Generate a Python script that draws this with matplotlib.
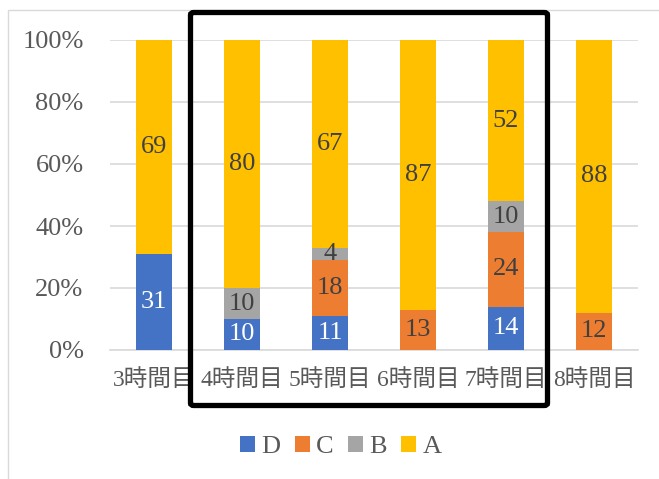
import matplotlib.pyplot as plt
from matplotlib.patches import Rectangle, FancyBboxPatch
from matplotlib.ticker import PercentFormatter

# data, percent per period
periods = ['3時間目', '4時間目', '5時間目', '6時間目', '7時間目', '8時間目']
d_vals = [31, 10, 11, 0, 14, 0]
c_vals = [0, 0, 18, 13, 24, 12]
b_vals = [0, 10, 4, 0, 10, 0]
a_vals = [69, 80, 67, 87, 52, 88]

series = [('D', d_vals, '#4472C4', 'white'),
          ('C', c_vals, '#ED7D31', '#404040'),
          ('B', b_vals, '#A5A5A5', '#404040'),
          ('A', a_vals, '#FFC000', '#404040')]

fonts = ['Liberation Serif', 'Noto Sans CJK JP', 'DejaVu Sans']
plt.rcParams['font.family'] = fonts
fs = 19
grey = '#595959'

fig = plt.figure(figsize=(6.59, 4.79), dpi=100)
W, H = 659, 479
ax = fig.add_axes([110 / W, 1 - 350 / H, 528 / W, 310 / H])

x = range(len(periods))
bottom = [0] * len(periods)
for name, vals, col, tcol in series:
    ax.bar(x, vals, width=0.4, bottom=bottom, color=col, label=name, zorder=3)
    for i, v in enumerate(vals):
        if v > 0:
            ax.text(i, bottom[i] + v / 2, str(v), ha='center',
                    va='center', color=tcol, fontsize=fs, zorder=4)
    bottom = [bb + v for bb, v in zip(bottom, vals)]

ax.set_xlim(-0.5, len(periods) - 0.5)
ax.set_ylim(0, 100)
ax.set_yticks(range(0, 101, 20))
ax.yaxis.set_major_formatter(PercentFormatter(decimals=0))
ax.set_xticks(list(x))
ax.set_xticklabels(periods)
ax.tick_params(axis='both', length=0, labelsize=fs, colors=grey)
ax.tick_params(axis='x', labelsize=17, pad=14)
ax.tick_params(axis='y', pad=19)
ax.grid(axis='y', color='#D9D9D9', lw=1.2, zorder=0)
for s in ['top', 'right', 'left']:
    ax.spines[s].set_visible(False)
ax.spines['bottom'].set_color('#D9D9D9')
ax.spines['bottom'].set_linewidth(1.2)

handles, labels = ax.get_legend_handles_labels()
fig.legend(handles, labels, loc='center', bbox_to_anchor=(341 / W, 1 - 447 / H),
           ncol=4, frameon=False, fontsize=fs, handlelength=0.55,
           handleheight=0.55, handletextpad=0.25, columnspacing=0.55,
           labelcolor=grey)

# chart frame (light grey)
fig.add_artist(Rectangle((8 / W, -0.1), 1.2, 1 - 10 / H + 0.1,
                         transform=fig.transFigure, fill=False,
                         edgecolor='#D9D9D9', lw=1))

# black highlight box around 4-7
fig.add_artist(FancyBboxPatch((190.5 / W, 1 - 405.5 / H), 357 / W, 393 / H,
                              boxstyle='round,pad=0,rounding_size=0.005',
                              transform=fig.transFigure, fill=False,
                              edgecolor='black', lw=3.8, zorder=10))

fig.savefig('out.png', dpi=100)
